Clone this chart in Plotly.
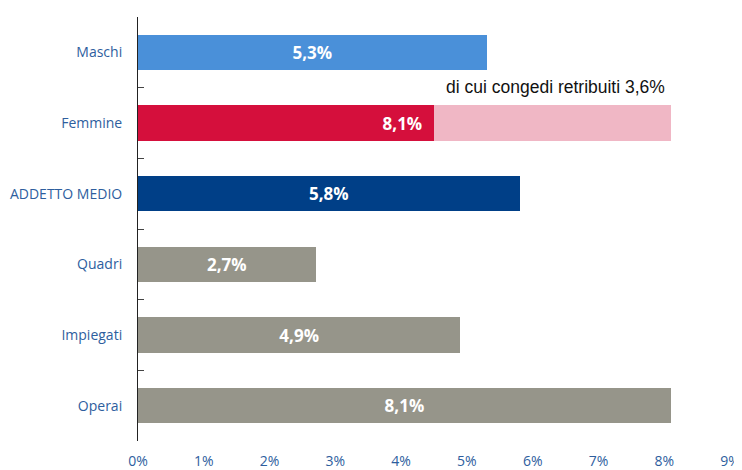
import plotly.graph_objects as go

categories = ["Maschi", "Femmine", "ADDETTO MEDIO", "Quadri", "Impiegati", "Operai"]
values = [5.3, 8.1, 5.8, 2.7, 4.9, 8.1]
labels = ["5,3%", "8,1%", "5,8%", "2,7%", "4,9%", "8,1%"]
congedi_femmine = 3.6
colors = ["#4A90D9", "#D50F3C", "#003F87", "#96958A", "#96958A", "#96958A"]
x_ticks = [0, 1, 2, 3, 4, 5, 6, 7, 8, 9]
x_tick_labels = ["0%", "1%", "2%", "3%", "4%", "5%", "6%", "7%", "8%", "9%"]

is_f = [c == "Femmine" for c in categories]
other_x = [0 if f else v for f, v in zip(is_f, values)]
other_text = ["" if f else t for f, t in zip(is_f, labels)]
fem_x = [v - congedi_femmine if f else 0 for f, v in zip(is_f, values)]
fem_text = [t + "\u00a0\u00a0" if f else "" for f, t in zip(is_f, labels)]
extra = [congedi_femmine if f else 0 for f in is_f]

bar_font = dict(family="Open Sans", size=17, color="white", weight="bold")

fig = go.Figure()
fig.add_trace(go.Bar(
    y=categories, x=other_x, orientation="h",
    marker=dict(color=colors, line=dict(width=0)),
    text=other_text, textposition="inside", insidetextanchor="middle",
    textfont=bar_font, hoverinfo="skip",
))
fig.add_trace(go.Bar(
    y=categories, x=fem_x, orientation="h",
    marker=dict(color=colors, line=dict(width=0)),
    text=fem_text, textposition="inside", insidetextanchor="end",
    textfont=bar_font, hoverinfo="skip",
))
fig.add_trace(go.Bar(
    y=categories, x=extra, orientation="h",
    marker=dict(color="#F0B7C5", line=dict(width=0)),
    hoverinfo="skip",
))
fig.add_annotation(
    x=values[1], y="Femmine", xref="x", yref="y",
    text="di cui congedi retribuiti 3,6%", showarrow=False,
    xanchor="right", yanchor="bottom", yshift=24, xshift=-4,
    font=dict(family="Liberation Sans", size=17.5, color="#111111"),
)
fig.update_layout(
    barmode="stack", bargap=0.5, showlegend=False,
    width=734, height=462,
    margin=dict(l=130, r=12, t=9, b=29),
    plot_bgcolor="white", paper_bgcolor="white",
    uniformtext=dict(mode=False),
    xaxis=dict(range=[0, 9], tickvals=x_ticks, ticktext=x_tick_labels,
               showgrid=False, zeroline=False, showline=False, ticks="",
               tickfont=dict(family="Open Sans", size=14, color="#2E5E9E"),
               ticklabelstandoff=10, automargin=False, fixedrange=True),
    yaxis=dict(autorange="reversed", showgrid=False, zeroline=False,
               showline=True, linecolor="#222222", linewidth=1,
               ticks="inside", tickson="boundaries", ticklen=6, tickcolor="#444444",
               tickfont=dict(family="Open Sans", size=14, color="#2E5E9E"),
               ticklabelstandoff=12, automargin=False, fixedrange=True),
)
fig.write_html("out.html")
